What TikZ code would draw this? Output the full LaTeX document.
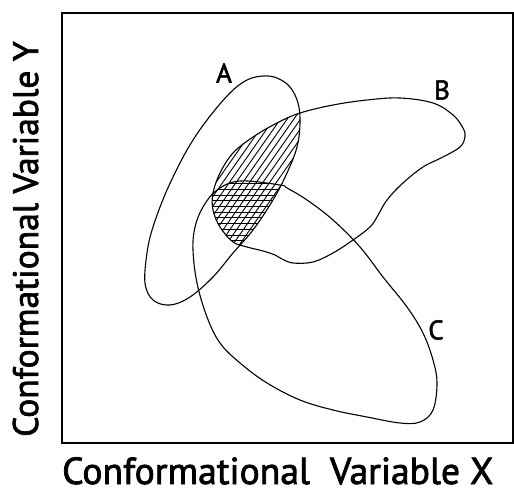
\documentclass[tikz,border=0pt]{standalone}
\usepackage{fontspec}
\setmainfont{PT Sans}
\newfontfamily\plotfont{PT Sans}[FakeBold=2]
\tikzset{
  regionline/.style={line width=1.1pt, line join=round},
  hatchline/.style={line width=0.9pt},
  axisframe/.style={line width=2.4pt},
  setlabel/.style={font=\plotfont\fontsize{27}{30}\selectfont, inner sep=0pt},
  axislabel/.style={font=\plotfont\fontsize{37.6}{40}\selectfont, inner sep=0pt, anchor=base west}
}
% outlines of the three regions
\newcommand{\regionA}{plot[smooth cycle, tension=0.6] coordinates {
  (290,87) (277,78) (263,76) (247,80) (230,93) (207,120) (187,150) (167,190)
  (153,227) (147,253) (145,283) (153,300) (170,305) (190,297) (213,277)
  (233,253) (253,230) (273,200) (287,173) (297,147) (300,123) (298,103)}}
\newcommand{\regionB}{plot[smooth cycle, tension=0.6] coordinates {
  (213,193) (220,173) (233,153) (253,137) (277,123) (300,113) (333,105)
  (367,100) (400,98) (433,103) (453,115) (463,128) (465,137) (460,147)
  (443,157) (423,167) (403,183) (387,200) (377,217) (370,227) (353,240)
  (333,253) (313,262) (293,263) (282,259) (275,255) (263,251) (247,247)
  (233,242) (220,227) (213,210)}}
\newcommand{\regionC}{plot[smooth cycle, tension=0.6] coordinates {
  (280,185) (240,181) (217,190) (203,207) (195,227) (193,250) (197,283)
  (207,317) (220,343) (240,363) (267,383) (300,400) (333,410) (367,417)
  (400,423) (420,422) (433,410) (437,383) (433,360) (423,333) (407,307)
  (383,277) (360,247) (333,220) (307,200) (287,188)}}

\begin{document}
\begin{tikzpicture}[x=1pt, y=-1pt]
  \useasboundingbox (0,0) rectangle (514,492);

  % hatching of the overlaps
  \begin{scope}
    \clip \regionA;
    \clip \regionB;
    \foreach \i in {-10,...,45}
      \draw[hatchline] ({60+6.7*\i},300) -- ({200+6.7*\i},100);
    \clip \regionC;
    \foreach \j in {0,...,16}
      \draw[hatchline] (190,{178+5.7*\j}) -- (310,{178+5.7*\j});
  \end{scope}

  \draw[regionline] \regionA;
  \draw[regionline] \regionB;
  \draw[regionline] \regionC;

  \node[setlabel] (labA) at (224,73) {A};
  \node[setlabel] (labB) at (442,90) {B};
  \node[setlabel] (labC) at (436,330) {C};

  \draw[axisframe] (62,13) rectangle (512.8,443);

  \node[axislabel] (xlab) at (62,484) {Conformational\ \ Variable X};
  \node[axislabel, rotate=90, font=\plotfont\fontsize{35.5}{38}\selectfont] (ylab) at (38,437) {Conformational Variable Y};
\end{tikzpicture}
\end{document}
